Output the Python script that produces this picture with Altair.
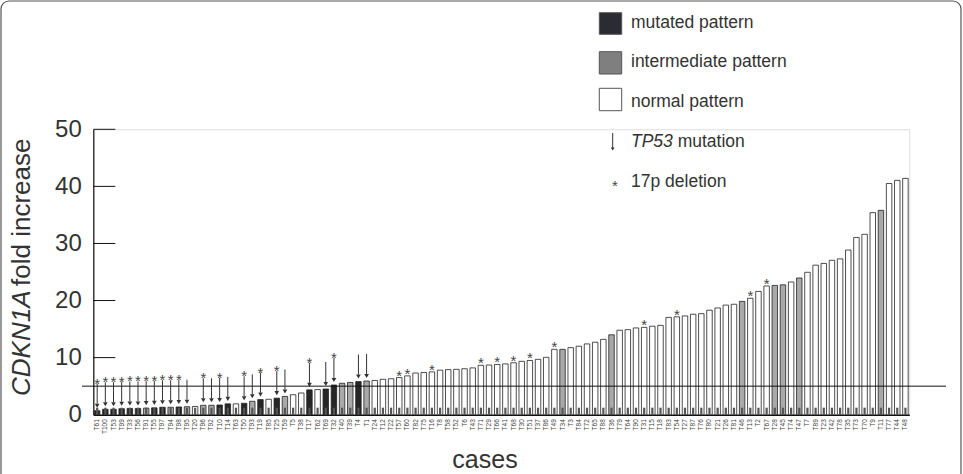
import altair as alt
import pandas as pd

cases = ["T61", "T100", "T53", "T99", "T33", "T56", "T91", "T55", "T97", "T94",
         "T98", "T95", "T20", "T96", "T92", "T10", "T14", "T63", "T50", "T93",
         "T19", "T85", "T25", "T59", "T5", "T38", "T17", "T62", "T69", "T32",
         "T40", "T39", "T4", "T1", "T24", "T12", "T22", "T57", "T60", "T82",
         "T75", "T16", "T8", "T58", "T52", "T6", "T43", "T71", "T29", "T66",
         "T41", "T68", "T30", "T51", "T37", "T86", "T49", "T34", "T3", "T84",
         "T72", "T65", "T88", "T36", "T79", "T64", "T90", "T31", "T15", "T18",
         "T83", "T54", "T27", "T87", "T76", "T80", "T21", "T26", "T81", "T46",
         "T13", "T2", "T67", "T28", "T45", "T74", "T47", "T7", "T89", "T23",
         "T42", "T78", "T35", "T73", "T70", "T9", "T11", "T77", "T44", "T48"]

fold_increase = [0.7, 0.95, 0.95, 1.05, 1.1, 1.1, 1.15, 1.2, 1.3, 1.3,
                 1.35, 1.4, 1.45, 1.65, 1.65, 1.7, 1.9, 1.9, 2.0, 2.35,
                 2.65, 2.7, 2.9, 3.2, 3.5, 3.8, 4.35, 4.4, 4.5, 5.2,
                 5.5, 5.65, 5.8, 5.9, 6.0, 6.2, 6.3, 6.5, 6.8, 7.3,
                 7.4, 7.5, 7.8, 7.9, 7.95, 8.05, 8.2, 8.65, 8.7, 8.8,
                 8.9, 9.1, 9.35, 9.5, 9.7, 10.05, 11.45, 11.45, 11.75, 12.0,
                 12.4, 12.7, 13.2, 14.0, 14.8, 14.9, 15.2, 15.3, 15.5, 15.65,
                 17.05, 17.15, 17.3, 17.6, 17.7, 18.3, 18.7, 19.2, 19.35, 19.85,
                 20.4, 21.6, 22.55, 22.65, 22.75, 23.25, 23.95, 24.95, 26.2, 26.5,
                 27.05, 27.3, 28.85, 31.05, 31.6, 35.4, 35.8, 40.5, 41.05, 41.4]

mutated_cases = ["T61", "T100", "T53", "T99", "T33", "T56", "T55", "T97", "T98",
                 "T10", "T14", "T50", "T19", "T25", "T17", "T69", "T32", "T4"]
intermediate_cases = ["T91", "T94", "T95", "T96", "T92", "T93", "T59", "T40", "T39",
                      "T1", "T34", "T36", "T46", "T28", "T45", "T47", "T11"]

tp53_cases = ["T61", "T100", "T53", "T99", "T33", "T56", "T91", "T55", "T97", "T94",
              "T98", "T95", "T96", "T92", "T10", "T14", "T50", "T93", "T19", "T25",
              "T59", "T17", "T69", "T32", "T4", "T1"]
del17p_cases = ["T61", "T100", "T53", "T99", "T33", "T56", "T91", "T55", "T97", "T94",
                "T98", "T96", "T10", "T50", "T19", "T25", "T17", "T32", "T57", "T60",
                "T16", "T71", "T66", "T68", "T51", "T49", "T31", "T54", "T13", "T67"]

y_ticks = [0, 10, 20, 30, 40, 50]

pattern_names = ["mutated pattern", "intermediate pattern", "normal pattern"]
pattern_colors = ["#262626", "#a9a9a9", "#ffffff"]


def pattern_of(c):
    if c in mutated_cases:
        return "mutated pattern"
    if c in intermediate_cases:
        return "intermediate pattern"
    return "normal pattern"


df = pd.DataFrame({"case": cases, "value": fold_increase})
df["pattern"] = [pattern_of(c) for c in cases]
df["tp53"] = [c in tp53_cases for c in cases]
df["del17p"] = [c in del17p_cases for c in cases]

W, H = 816, 285.4
PL, PT = 93.3, 129.3
FONT = "Liberation Sans"

xenc = alt.X("case:N", sort=cases,
             scale=alt.Scale(paddingInner=0.33, paddingOuter=0.14),
             axis=alt.Axis(labelAngle=270, labelFontSize=6.5, labelColor="#444",
                           labelPadding=4, ticks=False, domainColor="#111",
                           domainWidth=1.5, title=None, labelFont=FONT))
yscale = alt.Scale(domain=[0, 50], nice=False)

base = alt.Chart(df)

bars = base.mark_bar(stroke="#222", strokeWidth=0.8).encode(
    x=xenc,
    y=alt.Y("value:Q", scale=yscale,
            axis=alt.Axis(values=y_ticks, ticks=False, labelFontSize=24,
                          labelPadding=12, labelColor="#333", domainColor="#111",
                          domainWidth=1.2, title=None, grid=False, labelFont=FONT)),
    color=alt.Color("pattern:N", scale=alt.Scale(domain=pattern_names, range=pattern_colors),
                    legend=None),
)

foot = base.mark_rule(color="#555", strokeWidth=2.2, y2Offset=-7).encode(
    x=alt.X("case:N", sort=cases),
    y=alt.datum(0), y2=alt.datum(0),
)

arrows_df = df[df["tp53"]]
arrow_lines = alt.Chart(arrows_df).mark_rule(color="#333", strokeWidth=1,
                                             yOffset=-27, y2Offset=-7).encode(
    x=alt.X("case:N", sort=cases), y="value:Q", y2="value:Q")
arrow_heads = alt.Chart(arrows_df).mark_point(shape="triangle-down", filled=True,
                                              size=22, color="#333", opacity=1,
                                              yOffset=-5).encode(
    x=alt.X("case:N", sort=cases), y="value:Q")

stars_arrow = alt.Chart(df[df["del17p"] & df["tp53"]]).mark_text(
    text="*", fontSize=15, font=FONT, color="#444", baseline="alphabetic", dy=-22
).encode(x=alt.X("case:N", sort=cases), y="value:Q")
stars_plain = alt.Chart(df[df["del17p"] & ~df["tp53"]]).mark_text(
    text="*", fontSize=15, font=FONT, color="#444", baseline="alphabetic", dy=3
).encode(x=alt.X("case:N", sort=cases), y="value:Q")

tick_df = pd.DataFrame({"t": [t for t in y_ticks if t > 0]})
inner_ticks = alt.Chart(tick_df).mark_rule(color="#111", strokeWidth=1).encode(
    y=alt.Y("t:Q", scale=yscale), x=alt.value(0), x2=alt.value(22))

ref_line = alt.Chart(pd.DataFrame({"r": [5]})).mark_rule(color="#111", strokeWidth=1).encode(
    y=alt.Y("r:Q", scale=yscale), x=alt.value(82 - PL), x2=alt.value(946 - PL))


def one():
    return alt.Chart(pd.DataFrame({"k": [0]}))


def txt(s, px, py, size=17.5, style="normal", align="left", angle=0, color="#333"):
    return one().mark_text(text=s, fontSize=size, font=FONT, fontStyle=style, align=align,
                           baseline="middle", angle=angle, color=color).encode(
        x=alt.value(px - PL), y=alt.value(py - PT))


frame = one().mark_rect(fillOpacity=0, stroke="#555", strokeWidth=1.2, cornerRadius=8).encode(
    x=alt.value(1 - PL), x2=alt.value(961 - PL), y=alt.value(1 - PT), y2=alt.value(500 - PT))

legend_layers = []
sq_y = [(12.7, 34.3), (51.7, 74.0), (88.3, 110.7)]
sq_fill = ["#2b2b33", "#7f7f7f", "#ffffff"]
text_y = [22.7, 62.3, 101.7]
for (y1, y2), f, name, ty in zip(sq_y, sq_fill, pattern_names, text_y):
    legend_layers.append(one().mark_rect(fill=f, stroke="#555", strokeWidth=1).encode(
        x=alt.value(599.3 - PL), x2=alt.value(621.7 - PL),
        y=alt.value(y1 - PT), y2=alt.value(y2 - PT)))
    legend_layers.append(txt(name, 631, ty))

legend_layers.append(one().mark_rule(color="#333", strokeWidth=1).encode(
    x=alt.value(612.7 - PL), y=alt.value(133 - PT), y2=alt.value(148 - PT)))
legend_layers.append(one().mark_point(shape="triangle-down", filled=True, size=14,
                                      color="#333", opacity=1).encode(
    x=alt.value(612.7 - PL), y=alt.value(149 - PT)))
legend_layers.append(txt("TP53", 631, 141.7, style="italic"))
legend_layers.append(txt("mutation", 677.7, 141.7))
legend_layers.append(one().mark_text(text="*", fontSize=15, font=FONT, color="#444",
                                     baseline="alphabetic").encode(
    x=alt.value(615 - PL), y=alt.value(191 - PT)))
legend_layers.append(txt("17p deletion", 631, 181.7))

ytitle_a = txt("CDKN1A", 22, 396, size=26, style="italic", angle=270)
ytitle_b = txt("fold increase", 22, 286, size=26, angle=270)
xtitle = txt("cases", 485, 460, size=25, align="center")

chart = alt.layer(
    frame, bars, foot, inner_ticks, ref_line, arrow_lines, arrow_heads,
    stars_arrow, stars_plain, ytitle_a, ytitle_b, xtitle, *legend_layers
).properties(
    width=W, height=H,
    padding={"left": PL, "top": PT, "right": 963 - PL - W, "bottom": 474 - PT - H},
    autosize=alt.AutoSizeParams(type="none"),
).configure_view(stroke=None).configure(background="white")

chart.save("out.html", embed_options={"renderer": "svg", "actions": False})
